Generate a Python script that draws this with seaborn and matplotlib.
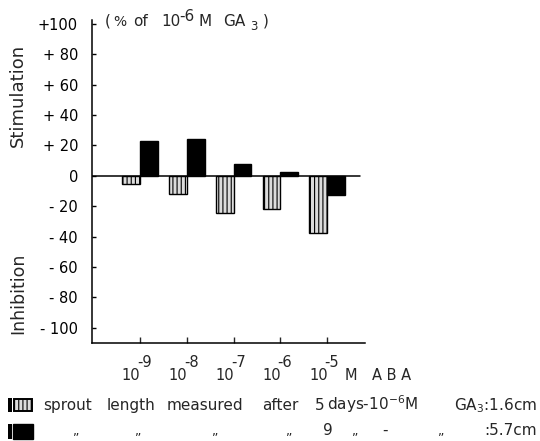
import matplotlib
matplotlib.use("Agg")
import matplotlib.pyplot as plt
import matplotlib.transforms as mtransforms
from matplotlib.patches import Rectangle
import pandas as pd
import seaborn as sns

# ABA concentrations (exponent of 10, M) and response as % of the 10^-6 M GA3 control
aba_exponents = ["-9", "-8", "-7", "-6", "-5"]
series_names = ["5 days", "9 days"]
after_5_days = [-5.5, -12, -24.5, -22, -37.5]
after_9_days = [23, 24, 8, 2.4, -12.5]

y_ticks = [-100, -80, -60, -40, -20, 0, 20, 40, 60, 80, 100]
y_tick_labels = ["- 100", "- 80", "- 60", "- 40", "- 20", "0",
                 "+ 20", "+ 40", "+ 60", "+ 80", "+100"]

df = pd.DataFrame({
    "aba": aba_exponents * 2,
    "series": [series_names[0]] * 5 + [series_names[1]] * 5,
    "value": after_5_days + after_9_days,
})

sns.set_style("ticks")
plt.rcParams["font.family"] = ["DejaVu Sans"]
plt.rcParams["hatch.linewidth"] = 0.8

W, H = 540, 441
fig = plt.figure(figsize=(W / 100, H / 100), dpi=100)
ax = fig.add_axes([92 / W, (H - 343) / H, 273 / W, 323 / H])


def fx(x):
    return x / W


def fy(y):
    return 1 - y / H


sns.barplot(data=df, x="aba", y="value", hue="series", order=aba_exponents,
            hue_order=series_names, width=0.76, dodge=True, ax=ax,
            legend=False, errorbar=None, saturation=1)

for bar in ax.containers[0]:
    bar.set_facecolor("#dcdcdc")
    bar.set_edgecolor("black")
    bar.set_hatch("||||")
    bar.set_linewidth(1.0)
for bar in ax.containers[1]:
    bar.set_facecolor("black")
    bar.set_edgecolor("black")
    bar.set_linewidth(1.0)

ax.set_xlim(-1.027, 4.81)
ax.set_ylim(-110, 102.6)
ax.axhline(0, xmax=0.982, color="black", lw=1.1, zorder=0.5)

sns.despine(ax=ax)
for side in ("left", "bottom"):
    ax.spines[side].set_linewidth(1.1)
    ax.spines[side].set_color("black")

ax.set_yticks(y_ticks)
ax.set_yticklabels(y_tick_labels, fontsize=10.5)
ax.tick_params(axis="y", direction="in", length=3, width=1, pad=10, colors="black")
ax.tick_params(axis="x", direction="in", length=4, width=1, labelbottom=False)
ax.set_xlabel("")
ax.set_ylabel("")

# concentration labels: 10 with the exponent raised beside it
tr = mtransforms.blended_transform_factory(ax.transData, fig.transFigure)
for i, e in enumerate(aba_exponents):
    ax.text(i + 0.01, fy(380), "10", transform=tr, ha="right", va="baseline",
            fontsize=10.5)
    ax.text(i - 0.06, fy(367), e, transform=tr, ha="left", va="baseline",
            fontsize=10.5)
fig.text(fx(345), fy(380), "M", ha="left", va="baseline", fontsize=10.5)
fig.text(fx(372), fy(380), "A B A", ha="left", va="baseline", fontsize=10.5)

# reference line of the ordinate: ( % of 10^-6 M GA3 )
title_parts = [(105, 26, "(", 11), (113, 26, "%", 10), (133, 26, "of", 11),
               (161, 26, "10", 11), (179, 21, "-6", 11), (199, 26, "M", 11),
               (223, 26, "GA", 11), (250, 30, "3", 8.5), (263, 26, ")", 11)]
for x, y, s, fs in title_parts:
    fig.text(fx(x), fy(y), s, ha="left", va="baseline", fontsize=fs)

fig.text(fx(18), fy(95), "Stimulation", rotation=90, ha="center", va="center",
         fontsize=13)
fig.text(fx(18), fy(293), "Inhibition", rotation=90, ha="center", va="center",
         fontsize=12.5)

# key
fig.add_artist(Rectangle((fx(8), fy(412)), 4 / W, 14 / H, transform=fig.transFigure,
                         facecolor="black", edgecolor="none"))
fig.add_artist(Rectangle((fx(14), fy(411)), 18 / W, 12 / H, transform=fig.transFigure,
                         facecolor="#dcdcdc", edgecolor="black", hatch="||||", lw=1.4))
fig.add_artist(Rectangle((fx(8), fy(439)), 4 / W, 15 / H, transform=fig.transFigure,
                         facecolor="black", edgecolor="none"))
fig.add_artist(Rectangle((fx(13), fy(439)), 20 / W, 15 / H, transform=fig.transFigure,
                         facecolor="black", edgecolor="black"))

row1 = [(43, "sprout"), (107, "length"), (167, "measured"), (262, "after"),
        (315, "5"), (327, "days-10$^{-6}$M")]
for x, s in row1:
    fig.text(fx(x), fy(410), s, ha="left", va="baseline", fontsize=11)
fig.text(fx(537), fy(410), "GA$_3$:1.6cm", ha="right", va="baseline", fontsize=11)

ditto = "\u201e"
row2 = [(73, ditto), (135, ditto), (212, ditto), (286, ditto),
        (323, "9"), (352, ditto), (382, "-"), (438, ditto)]
for x, s in row2:
    fs = 9 if s == ditto else 11
    fig.text(fx(x), fy(435), s, ha="left", va="baseline", fontsize=fs)
fig.text(fx(537), fy(435), ":5.7cm", ha="right", va="baseline", fontsize=11)

fig.savefig("out.png", dpi=100)
